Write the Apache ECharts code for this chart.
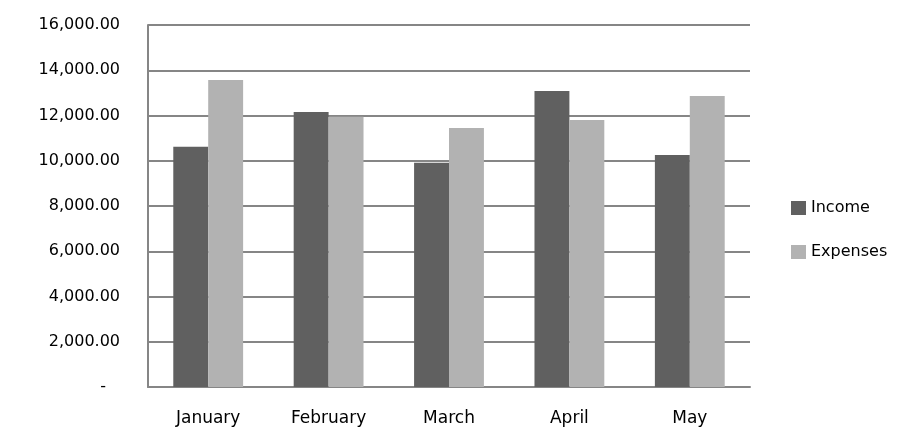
<!DOCTYPE html>
<html>
<head>
<meta charset="utf-8">
<script src="https://cdn.jsdelivr.net/npm/echarts@6/dist/echarts.min.js"></script>
<style>
html,body{margin:0;padding:0;background:#fff;}
#chart{width:909px;height:430px;}
</style>
</head>
<body>
<div id="chart"></div>
<script>
var categories = ['January', 'February', 'March', 'April', 'May'];
var incomeValues = [10620, 12150, 9910, 13080, 10250];
var expensesValues = [13570, 11950, 11450, 11800, 12860];
var tickLabels = ['-', '2,000.00', '4,000.00', '6,000.00', '8,000.00', '10,000.00', '12,000.00', '14,000.00', '16,000.00'];

var chart = echarts.init(document.getElementById('chart'), null, {renderer: 'canvas'});
var font = 'DejaVu Sans';
chart.setOption({
  animation: false,
  backgroundColor: '#ffffff',
  grid: {left: 148, right: 159, top: 25, bottom: 43, containLabel: false},
  legend: {
    orient: 'vertical',
    left: 786,
    top: 195,
    itemWidth: 15,
    itemHeight: 14,
    itemGap: 28,
    icon: 'rect',
    textStyle: {fontFamily: font, fontSize: 16, color: '#000'},
    data: ['Income', 'Expenses']
  },
  xAxis: {
    type: 'category',
    data: categories,
    axisLine: {show: true, lineStyle: {color: '#868686', width: 2}},
    axisTick: {show: false},
    axisLabel: {fontFamily: font, fontSize: 17, color: '#000', margin: 23}
  },
  yAxis: {
    type: 'value',
    min: 0,
    max: 16000,
    interval: 2000,
    axisLine: {show: true, lineStyle: {color: '#868686', width: 2}},
    axisTick: {show: false},
    splitLine: {show: true, lineStyle: {color: '#868686', width: 2}},
    axisLabel: {
      fontFamily: font, fontSize: 16, color: '#000', margin: 28,
      formatter: function (v) {
        var s = tickLabels[Math.round(v / 2000)];
        return v === 0 ? '{z|' + s + '}' : s;
      },
      rich: {z: {fontFamily: font, fontSize: 16, color: '#000', padding: [0, 14, 0, 0]}}
    }
  },
  series: [
    {name: 'Income', type: 'bar', data: incomeValues, itemStyle: {color: '#606060'}, barGap: '0%', barCategoryGap: '42%'},
    {name: 'Expenses', type: 'bar', data: expensesValues, itemStyle: {color: '#b2b2b2'}, barGap: '0%', barCategoryGap: '42%'}
  ]
});
</script>
</body>
</html>
